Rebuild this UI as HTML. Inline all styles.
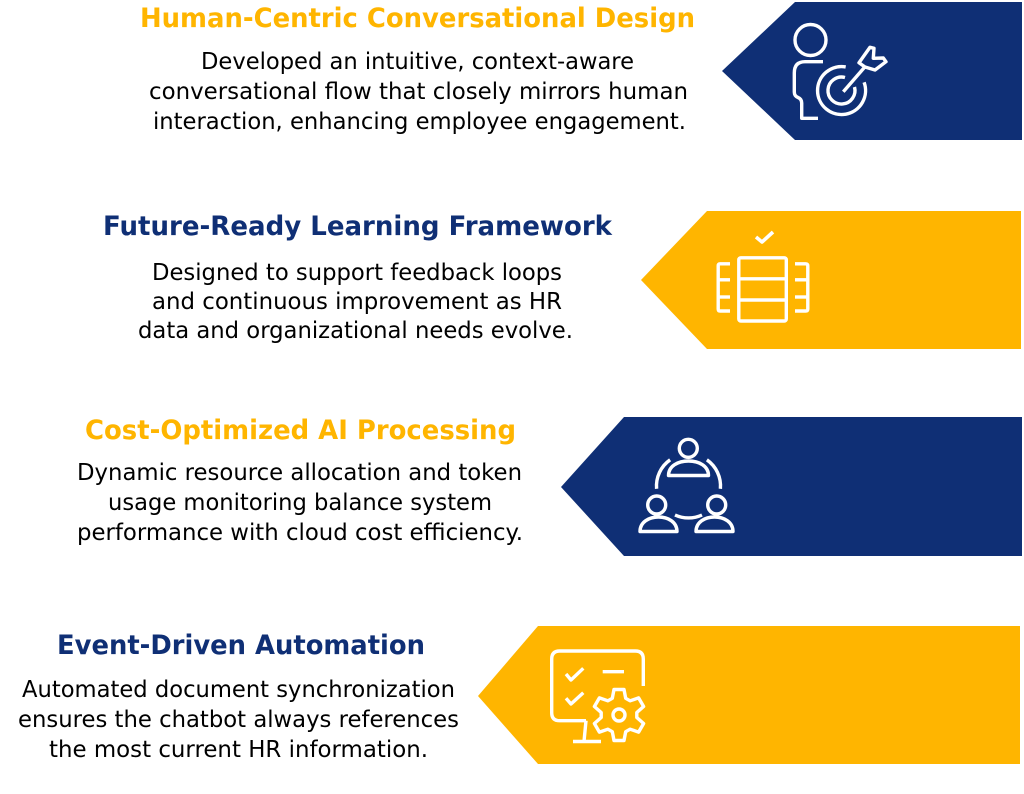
<!DOCTYPE html>
<html>
<head>
<meta charset="utf-8">
<style>
  html, body { margin:0; padding:0; background:#ffffff; }
  svg { display:block; }
  .t { font-family: "DejaVu Sans", "Liberation Sans", sans-serif; font-weight:bold; font-size:27px; }
  .b { font-family: "DejaVu Sans", "Liberation Sans", sans-serif; font-size:23.5px; fill:#000; }
  .ic { fill:none; stroke:#ffffff; stroke-width:3.4; stroke-linecap:butt; stroke-linejoin:round; }
</style>
</head>
<body>
<svg width="1024" height="794" viewBox="0 0 1024 794" xmlns="http://www.w3.org/2000/svg">
  <rect width="1024" height="794" fill="#ffffff"/>

  <!-- Shapes -->
  <path d="M795,2 H1022 V140 H795 L722,71 Z" fill="#0F2F75"/>
  <path d="M707,211 H1021 V349 H707 L641,280 Z" fill="#FFB500"/>
  <path d="M624,417 H1022 V556 H624 L561,487 Z" fill="#0F2F75"/>
  <path d="M538,626 H1020 V764 H538 L478,696 Z" fill="#FFB500"/>

  <!-- Icon 1: person + target -->
  <g class="ic">
    <circle cx="810.5" cy="40" r="15.5"/>
    <path d="M823,61.7 H805 Q794.3,61.7 794.3,73 V92 Q794.3,96 798,97.5 Q801.7,99 801.7,103 V118.3 H818"/>
    <path d="M845.7,66.9 A24,24 0 1 0 864.1,82.3"/>
    <path d="M845,77.5 A13.5,13.5 0 1 0 854.5,87"/>
    <line x1="843.3" y1="91.7" x2="865" y2="66.7"/>
    <path d="M859,62.7 L870,47.3 L874,48.3 L873.3,58.3 L883.3,58 L886,61.7 L875,70 L865,67 Z"/>
  </g>

  <!-- Icon 2: database/server with check -->
  <g class="ic" stroke-width="4">
    <path d="M756,237 L762,242 L773,232" stroke-width="3.6"/>
    <rect x="738.8" y="257.8" width="47.5" height="63.2" rx="2"/>
    <line x1="738.8" y1="278.8" x2="786.3" y2="278.8"/>
    <line x1="738.8" y1="300" x2="786.3" y2="300"/>
    <path d="M730,263.8 H720 Q718.2,263.8 718.2,266 V309 Q718.2,311 720,311 H730"/>
    <line x1="718.2" y1="279.8" x2="730" y2="279.8"/>
    <line x1="718.2" y1="297" x2="730" y2="297"/>
    <path d="M795,263.8 H805.6 Q807.8,263.8 807.8,266 V309 Q807.8,311 805.6,311 H795"/>
    <line x1="795" y1="279.8" x2="807.8" y2="279.8"/>
    <line x1="795" y1="297" x2="807.8" y2="297"/>
  </g>

  <!-- Icon 3: three people network -->
  <g class="ic" stroke-width="3.6">
    <circle cx="688.3" cy="448.3" r="9"/>
    <path d="M668.5,475.5 C668.5,466 678,461 688.5,461 C699,461 708.5,466 708.5,475.5 Z"/>
    <circle cx="656.7" cy="505" r="9"/>
    <path d="M640,531.5 C640,522 649,517 658.5,517 C668,517 677,522 677,531.5 Z"/>
    <circle cx="716.7" cy="505" r="9"/>
    <path d="M696,531.5 C696,522 705,517 714.5,517 C724,517 733,522 733,531.5 Z"/>
    <path d="M656.6,488.8 A32,32 0 0 1 670.1,459.8"/>
    <path d="M706.9,459.8 A32,32 0 0 1 720.4,488.8"/>
    <path d="M702,515 A32,32 0 0 1 675,515"/>
  </g>

  <!-- Icon 4: monitor with checklist and gear -->
  <g class="ic">
    <path d="M643.3,686 V659 Q643.3,651 635.3,651 H559.7 Q551.7,651 551.7,659 V712.7 Q551.7,720.7 559.7,720.7 H586"/>
    <line x1="586" y1="720.7" x2="584" y2="741.5"/>
    <line x1="573" y1="741.5" x2="601" y2="741.5"/>
    <path d="M566,674 L571,680 L583.3,668.3"/>
    <path d="M566,698.3 L571,704 L583.3,692.7"/>
    <line x1="602.7" y1="671.7" x2="624" y2="671.7"/>
    <path d="M614.0,689.5 L624.0,689.5 L625.7,698.3 L630.1,700.8 L638.6,697.9 L643.6,706.5 L636.8,712.5 L636.8,717.5 L643.6,723.5 L638.6,732.1 L630.1,729.2 L625.7,731.7 L624.0,740.5 L614.0,740.5 L612.3,731.7 L607.9,729.2 L599.4,732.1 L594.4,723.5 L601.2,717.5 L601.2,712.5 L594.4,706.5 L599.4,697.9 L607.9,700.8 L612.3,698.3 Z"/>
    <circle cx="619" cy="715" r="6"/>
  </g>

  <!-- Section 1 text -->
  <text class="t" fill="#FFB500" x="417.5" y="27" text-anchor="middle" textLength="555" lengthAdjust="spacingAndGlyphs">Human-Centric Conversational Design</text>
  <text class="b" x="417.5" y="69" text-anchor="middle" textLength="433" lengthAdjust="spacingAndGlyphs">Developed an intuitive, context-aware</text>
  <text class="b" x="418.5" y="99" text-anchor="middle" textLength="539" lengthAdjust="spacingAndGlyphs">conversational flow that closely mirrors human</text>
  <text class="b" x="419.5" y="129" text-anchor="middle" textLength="533" lengthAdjust="spacingAndGlyphs">interaction, enhancing employee engagement.</text>

  <!-- Section 2 text -->
  <text class="t" fill="#0F2F75" x="357.5" y="235" text-anchor="middle" textLength="509" lengthAdjust="spacingAndGlyphs">Future-Ready Learning Framework</text>
  <text class="b" x="357" y="280" text-anchor="middle" textLength="410" lengthAdjust="spacingAndGlyphs">Designed to support feedback loops</text>
  <text class="b" x="357" y="309" text-anchor="middle" textLength="410" lengthAdjust="spacingAndGlyphs">and continuous improvement as HR</text>
  <text class="b" x="355.5" y="338" text-anchor="middle" textLength="435" lengthAdjust="spacingAndGlyphs">data and organizational needs evolve.</text>

  <!-- Section 3 text -->
  <text class="t" fill="#FFB500" x="300.5" y="439" text-anchor="middle" textLength="431" lengthAdjust="spacingAndGlyphs">Cost-Optimized AI Processing</text>
  <text class="b" x="299.5" y="480" text-anchor="middle" textLength="445" lengthAdjust="spacingAndGlyphs">Dynamic resource allocation and token</text>
  <text class="b" x="300" y="510" text-anchor="middle" textLength="384" lengthAdjust="spacingAndGlyphs">usage monitoring balance system</text>
  <text class="b" x="300" y="540" text-anchor="middle" textLength="446" lengthAdjust="spacingAndGlyphs">performance with cloud cost efficiency.</text>

  <!-- Section 4 text -->
  <text class="t" fill="#0F2F75" x="241" y="654" text-anchor="middle" textLength="368" lengthAdjust="spacingAndGlyphs">Event-Driven Automation</text>
  <text class="b" x="238.5" y="697" text-anchor="middle" textLength="433" lengthAdjust="spacingAndGlyphs">Automated document synchronization</text>
  <text class="b" x="238.5" y="727" text-anchor="middle" textLength="441" lengthAdjust="spacingAndGlyphs">ensures the chatbot always references</text>
  <text class="b" x="238.5" y="757" text-anchor="middle" textLength="379" lengthAdjust="spacingAndGlyphs">the most current HR information.</text>
</svg>
</body>
</html>
